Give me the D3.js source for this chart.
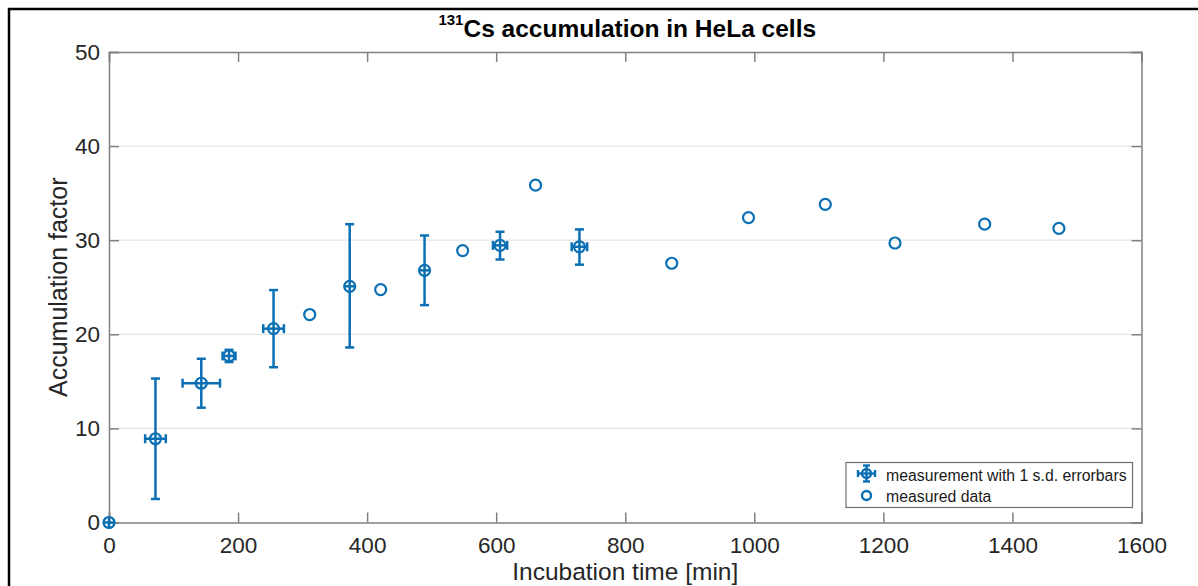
<!DOCTYPE html>
<html><head><meta charset="utf-8">
<script src="https://cdn.jsdelivr.net/npm/d3@7"></script>
<style>
html,body{margin:0;padding:0;background:#fff;}
svg text{font-family:"Liberation Sans",Arial,Helvetica,sans-serif;}
</style></head>
<body>
<svg id="chart" width="1198" height="586"></svg>
<script>
// ---- data ----
const errTime  = [0, 72, 143, 186, 255, 373, 489, 606, 729];
const errValue = [0, 8.9, 14.8, 17.7, 20.6, 25.1, 26.8, 29.45, 29.3];
const errLow   = [0.55, 6.4, 2.6, 0.65, 4.1, 6.5, 3.7, 1.5, 1.9];   // lower s.d.
const errHigh  = [0.55, 6.4, 2.6, 0.65, 4.1, 6.6, 3.7, 1.45, 1.85]; // upper s.d.
const errTimeSd= [8, 16, 29, 10, 16, 8, 8, 11, 12];
const dataTime  = [311, 421, 548, 661, 872, 991, 1110, 1218, 1357, 1472];
const dataValue = [22.1, 24.75, 28.9, 35.85, 27.55, 32.4, 33.8, 29.7, 31.7, 31.25];
const xTicks = [0, 200, 400, 600, 800, 1000, 1200, 1400, 1600];
const yTicks = [0, 10, 20, 30, 40, 50];
const legendLabels = ["measurement with 1 s.d. errorbars", "measured data"];

const blue = "#0b6fb4";
const svg = d3.select("#chart");
const m = {l:109, r:1141.5, t:52, b:522.5};
const x = d3.scaleLinear().domain([0,1600]).range([m.l, m.r]);
const y = d3.scaleLinear().domain([0,50]).range([m.b, m.t]);

// outer frame
svg.append("rect").attr("x",9).attr("y",9).attr("width",1230).attr("height",620)
  .attr("fill","none").attr("stroke","#000").attr("stroke-width",2.5);

// grid
svg.append("g").selectAll("line").data(yTicks.filter(d=>d>0 && d<50)).join("line")
  .attr("x1",m.l).attr("x2",m.r).attr("y1",d=>y(d)).attr("y2",d=>y(d))
  .attr("stroke","#e6e6e6").attr("stroke-width",1.2);

// axes
const tickLen = 10;
const axColor = "#808080";
const gx = svg.append("g").attr("transform",`translate(0,${m.b})`)
  .call(d3.axisBottom(x).tickValues(xTicks).tickSize(-tickLen).tickPadding(11).tickFormat(d3.format("d")));
const gxt = svg.append("g").attr("transform",`translate(0,${m.t})`)
  .call(d3.axisTop(x).tickValues(xTicks).tickSize(-tickLen).tickFormat(""));
const gy = svg.append("g").attr("transform",`translate(${m.l},0)`)
  .call(d3.axisLeft(y).tickValues(yTicks).tickSize(-tickLen).tickPadding(9).tickFormat(d3.format("d")));
const gyr = svg.append("g").attr("transform",`translate(${m.r},0)`)
  .call(d3.axisRight(y).tickValues(yTicks).tickSize(-tickLen).tickFormat(""));
[gx,gxt,gy,gyr].forEach(g=>{
  g.select(".domain").attr("stroke",axColor).attr("stroke-width",1.5);
  g.selectAll(".tick line").attr("stroke",axColor).attr("stroke-width",1.5);
  g.selectAll(".tick text").attr("fill","#262626").style("font-size","22.5px");
});
gx.selectAll(".tick text").attr("dy","0.71em").attr("y",15);

// axis labels
svg.append("text").attr("x",(m.l+m.r)/2).attr("y",580).attr("text-anchor","middle")
  .attr("fill","#262626").style("font-size","24.5px").text("Incubation time [min]");
svg.append("text").attr("transform",`translate(67,${(m.t+m.b)/2}) rotate(-90)`)
  .attr("text-anchor","middle").attr("fill","#262626").style("font-size","25px").text("Accumulation factor");

// title
const title = svg.append("text").attr("x",(m.l+m.r)/2+2).attr("y",37).attr("text-anchor","middle")
  .attr("fill","#000").style("font-weight","bold").style("font-size","24.5px");
title.append("tspan").attr("dy","-12").style("font-size","15px").text("131");
title.append("tspan").attr("dy","12").text("Cs accumulation in HeLa cells");

// error bars
const capH = 4.5, mr = 5.5;
const eb = svg.append("g").attr("stroke",blue).attr("stroke-width",2.5).attr("fill","none");
errTime.forEach((t,i)=>{
  const cx = x(t), cy = y(errValue[i]);
  const yl = y(errValue[i]-errLow[i]), yh = y(errValue[i]+errHigh[i]);
  const xl = x(t-errTimeSd[i]), xh = x(t+errTimeSd[i]);
  const g = eb.append("g");
  g.append("line").attr("x1",cx).attr("x2",cx).attr("y1",yl).attr("y2",yh);
  g.append("line").attr("x1",xl).attr("x2",xh).attr("y1",cy).attr("y2",cy);
  if ((yl-yh)/2 > mr) {
    g.append("line").attr("x1",cx-capH).attr("x2",cx+capH).attr("y1",yl).attr("y2",yl);
    g.append("line").attr("x1",cx-capH).attr("x2",cx+capH).attr("y1",yh).attr("y2",yh);
  }
  if ((xh-xl)/2 > mr) {
    g.append("line").attr("x1",xl).attr("x2",xl).attr("y1",cy-capH).attr("y2",cy+capH);
    g.append("line").attr("x1",xh).attr("x2",xh).attr("y1",cy-capH).attr("y2",cy+capH);
  }
  g.append("circle").attr("cx",cx).attr("cy",cy).attr("r",mr).attr("stroke-width",2.2);
});

// measured data circles
svg.append("g").selectAll("circle").data(dataTime).join("circle")
  .attr("cx",d=>x(d)).attr("cy",(d,i)=>y(dataValue[i])).attr("r",mr)
  .attr("fill","none").attr("stroke",blue).attr("stroke-width",2.2);

// legend
const lg = svg.append("g");
lg.append("rect").attr("x",846).attr("y",462.5).attr("width",286.5).attr("height",45)
  .attr("fill","#fff").attr("stroke","#6e6e6e").attr("stroke-width",1.2);
const ix = 866.5, iy1 = 473.5, iy2 = 495.5;
const li = lg.append("g").attr("stroke",blue).attr("stroke-width",2.4).attr("fill","none");
li.append("line").attr("x1",ix).attr("x2",ix).attr("y1",iy1-8).attr("y2",iy1+8);
li.append("line").attr("x1",ix-3.5).attr("x2",ix+3.5).attr("y1",iy1-8).attr("y2",iy1-8);
li.append("line").attr("x1",ix-3.5).attr("x2",ix+3.5).attr("y1",iy1+8).attr("y2",iy1+8);
li.append("line").attr("x1",ix-8.5).attr("x2",ix+8.5).attr("y1",iy1).attr("y2",iy1);
li.append("line").attr("x1",ix-8.5).attr("x2",ix-8.5).attr("y1",iy1-3.5).attr("y2",iy1+3.5);
li.append("line").attr("x1",ix+8.5).attr("x2",ix+8.5).attr("y1",iy1-3.5).attr("y2",iy1+3.5);
li.append("circle").attr("cx",ix).attr("cy",iy1).attr("r",4.5);
li.append("circle").attr("cx",ix).attr("cy",iy2).attr("r",4.5);
lg.selectAll("text").data(legendLabels).join("text")
  .attr("x",886).attr("y",(d,i)=>i===0?480.5:502)
  .attr("fill","#1a1a1a").style("font-size","15.8px").text(d=>d);
</script>
</body></html>
